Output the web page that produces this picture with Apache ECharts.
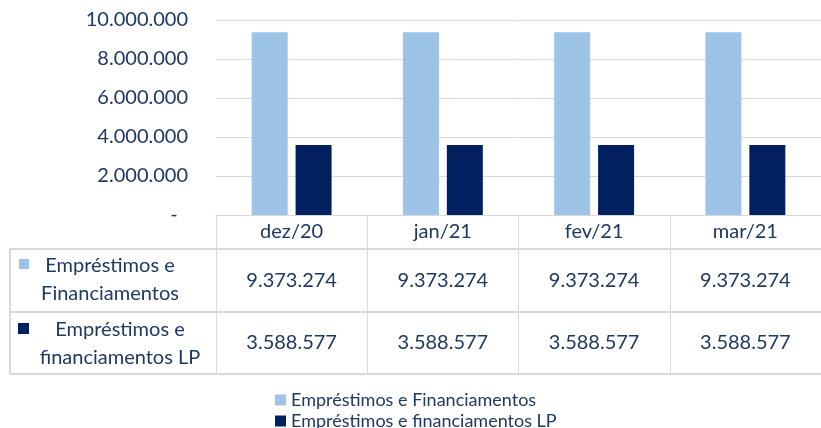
<!DOCTYPE html>
<html>
<head>
<meta charset="utf-8">
<script src="https://cdn.jsdelivr.net/npm/echarts@6/dist/echarts.min.js"></script>
<style>
  html, body { margin: 0; padding: 0; background: #fff; }
  #main { width: 821px; height: 428px; }
</style>
</head>
<body>
<div id="main"></div>
<script>
// dados
var categorias = ['dez/20', 'jan/21', 'fev/21', 'mar/21'];
var emprestimos = [9373274, 9373274, 9373274, 9373274];
var emprestimosLP = [3588577, 3588577, 3588577, 3588577];
var nomesSeries = ['Empréstimos e Financiamentos', 'Empréstimos e financiamentos LP'];

var corClara = '#9DC3E6';
var corEscura = '#002060';
var corTexto = '#1F3864';
var corLinha = '#D9D9D9';
var fonte = 'Lato, "Open Sans", sans-serif';

function fmt(v) {
    if (v === 0) return '-  ';
    return String(v).replace(/\B(?=(\d{3})+(?!\d))/g, '.');
}

var myChart = echarts.init(document.getElementById('main'));

// eixo extra para cada linha da tabela
function linhaTabela(valores, margem) {
    return {
        type: 'category',
        data: categorias,
        position: 'bottom',
        gridIndex: 0,
        axisLine: { show: false },
        axisTick: { show: false },
        axisLabel: {
            margin: margem,
            verticalAlign: 'middle',
            color: corTexto,
            fontFamily: fonte,
            fontSize: 20,
            formatter: function (v, i) { return fmt(valores[i]); }
        }
    };
}

// uma legenda por serie, empilhadas
function legenda(nome, topo) {
    return {
        orient: 'vertical',
        left: 270,
        top: topo,
        itemWidth: 11,
        itemHeight: 11,
        itemGap: 0,
        icon: 'rect',
        data: [nome],
        textStyle: { color: corTexto, fontFamily: fonte, fontSize: 18 }
    };
}

myChart.setOption({
    backgroundColor: '#fff',
    animation: false,
    color: [corClara, corEscura],
    grid: { left: 216, right: -6, top: 20, bottom: 213 },
    legend: [
        legenda(nomesSeries[0], 386),
        legenda(nomesSeries[1], 407)
    ],
    xAxis: [
        {
            type: 'category',
            data: categorias,
            axisLine: { lineStyle: { color: corLinha } },
            axisTick: { show: true, length: 159, lineStyle: { color: corLinha } },
            axisLabel: {
                margin: 17,
                verticalAlign: 'middle',
                color: corTexto,
                fontFamily: fonte,
                fontSize: 20
            }
        },
        linhaTabela(emprestimos, 66),
        linhaTabela(emprestimosLP, 128)
    ],
    yAxis: {
        type: 'value',
        min: 0,
        max: 10000000,
        interval: 2000000,
        axisLine: { show: false },
        axisTick: { show: false },
        splitLine: { lineStyle: { color: corLinha } },
        axisLabel: {
            margin: 28,
            color: corTexto,
            fontFamily: fonte,
            fontSize: 20,
            formatter: fmt
        }
    },
    graphic: [
        { type: 'line', shape: { x1: 10, y1: 249, x2: 821, y2: 249 }, style: { stroke: corLinha, lineWidth: 2 } },
        { type: 'line', shape: { x1: 10, y1: 312, x2: 821, y2: 312 }, style: { stroke: corLinha, lineWidth: 2 } },
        { type: 'line', shape: { x1: 10, y1: 374, x2: 821, y2: 374 }, style: { stroke: corLinha, lineWidth: 2 } },
        { type: 'line', shape: { x1: 10, y1: 249, x2: 10, y2: 374 }, style: { stroke: corLinha, lineWidth: 2 } },
        { type: 'rect', shape: { x: 19, y: 259, width: 10, height: 10 }, style: { fill: corClara } },
        {
            type: 'text', x: 110, y: 280,
            style: {
                text: 'Empréstimos e\nFinanciamentos', fill: corTexto, font: '20px ' + fonte,
                align: 'center', verticalAlign: 'middle', lineHeight: 28
            }
        },
        { type: 'rect', shape: { x: 18, y: 323, width: 11, height: 11 }, style: { fill: corEscura } },
        {
            type: 'text', x: 120, y: 344,
            style: {
                text: 'Empréstimos e\nfinanciamentos LP', fill: corTexto, font: '20px ' + fonte,
                align: 'center', verticalAlign: 'middle', lineHeight: 28
            }
        }
    ],
    series: [
        { name: nomesSeries[0], type: 'bar', barWidth: 36, barGap: '22%', data: emprestimos },
        { name: nomesSeries[1], type: 'bar', barWidth: 36, barGap: '22%', data: emprestimosLP }
    ]
});

window.addEventListener('resize', function () {
    myChart.resize();
});
</script>
</body>
</html>
